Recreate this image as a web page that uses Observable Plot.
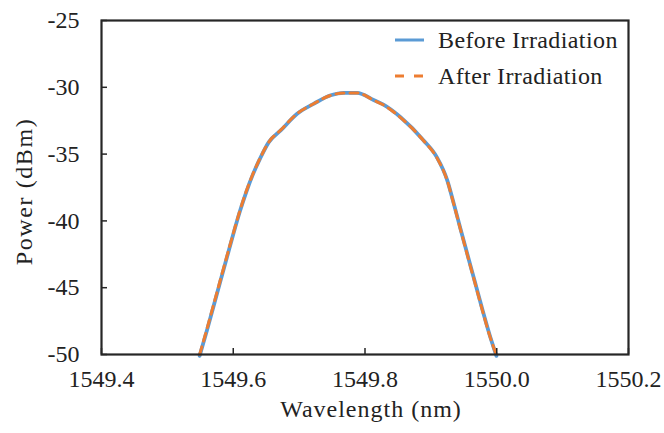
<!DOCTYPE html>
<html>
<head>
<meta charset="utf-8">
<script src="https://cdn.jsdelivr.net/npm/d3@7"></script>
<script src="https://cdn.jsdelivr.net/npm/@observablehq/plot@0.6"></script>
<style>
  html, body { margin: 0; padding: 0; background: #fff; }
  #wrap { position: relative; width: 664px; height: 433px; font-family: "Liberation Serif", "Times New Roman", serif; color: #222; }
  #legend { position: absolute; left: 394px; top: 22px; font-size: 24px; line-height: 36px; }
  #legend .row { display: flex; align-items: center; white-space: nowrap; letter-spacing: 0.4px; }
  #legend svg { margin-right: 13px; }
</style>
</head>
<body>
<div id="wrap"><div id="legend"></div></div>
<script>
const wavelength = [1549.549, 1549.560, 1549.570, 1549.580, 1549.590, 1549.600, 1549.610, 1549.620, 1549.630, 1549.641, 1549.654, 1549.672, 1549.697, 1549.722, 1549.748, 1549.768, 1549.788, 1549.813, 1549.828, 1549.854, 1549.889, 1549.909, 1549.925, 1549.935, 1549.945, 1549.956, 1549.967, 1549.978, 1549.989, 1549.9995];
const powerBefore = [-50.1, -48.2, -46.4, -44.6, -42.8, -41.0, -39.3, -37.8, -36.5, -35.3, -34.1, -33.23, -31.98, -31.24, -30.6, -30.41, -30.41, -30.95, -31.3, -32.24, -33.98, -35.23, -36.98, -38.75, -40.6, -42.6, -44.6, -46.6, -48.5, -50.1];
const powerAfter = [-50.0, -48.1, -46.3, -44.5, -42.7, -40.95, -39.25, -37.75, -36.47, -35.28, -34.1, -33.2, -31.97, -31.23, -30.6, -30.42, -30.42, -30.96, -31.32, -32.27, -34.0, -35.27, -37.02, -38.8, -40.65, -42.66, -44.66, -46.66, -48.55, -50.05];
const seriesNames = ["Before Irradiation", "After Irradiation"];
const seriesColors = ["#5B9BD5", "#ED7D31"];
const xTicks = [1549.4, 1549.6, 1549.8, 1550.0, 1550.2];
const yTicks = [-50, -45, -40, -35, -30, -25];
const xLabel = "Wavelength (nm)";
const yLabel = "Power (dBm)";

const before = wavelength.map((w, i) => ({w, p: powerBefore[i]}));
const after = wavelength.map((w, i) => ({w, p: powerAfter[i]}));

const chart = Plot.plot({
  width: 664,
  height: 433,
  marginLeft: 101,
  marginRight: 36,
  marginTop: 20,
  marginBottom: 79,
  style: {fontFamily: "Liberation Serif, Times New Roman, serif", fontSize: "24px", color: "#222", background: "white", overflow: "visible"},
  x: {domain: [1549.4, 1550.2]},
  y: {domain: [-50, -25]},
  marks: [
    Plot.line(before, {x: "w", y: "p", stroke: seriesColors[0], strokeWidth: 3.8, curve: "monotone-x"}),
    Plot.line(after, {x: "w", y: "p", stroke: seriesColors[1], strokeWidth: 3, strokeDasharray: "8,6", curve: "monotone-x"}),
    Plot.frame({stroke: "#262626", strokeWidth: 2.2}),
    Plot.axisX(xTicks, {tickSize: -6, tickPadding: 21, tickFormat: d => d.toFixed(1), label: null, stroke: "#262626", strokeWidth: 1.5, fontSize: 24}),
    Plot.axisY(yTicks, {tickSize: -6, tickPadding: 28, tickFormat: d => String(d), label: null, stroke: "#262626", strokeWidth: 1.5, fontSize: 24}),
    Plot.text([xLabel], {text: d => d, frameAnchor: "bottom", dy: 62, dx: 6, fontSize: 24, fill: "#222"}),
    Plot.text([yLabel], {text: d => d, frameAnchor: "left", textAnchor: "middle", dx: -77, dy: 4, rotate: -90, fontSize: 24, fill: "#222"})
  ]
});
d3.select(chart).selectAll("text").each(function() {
  const t = this.textContent;
  if (t === xLabel) this.style.letterSpacing = "1px";
  if (t === yLabel) this.style.letterSpacing = "1.6px";
});
document.getElementById("wrap").prepend(chart);

const legend = document.getElementById("legend");
seriesNames.forEach((name, i) => {
  const row = document.createElement("div");
  row.className = "row";
  const dash = i === 1 ? 'stroke-dasharray="9,10"' : '';
  row.innerHTML = `<svg width="31" height="6"><line x1="1" y1="3" x2="30" y2="3" stroke="${seriesColors[i]}" stroke-width="3" ${dash}/></svg><span>${name}</span>`;
  legend.appendChild(row);
});
</script>
</body>
</html>
